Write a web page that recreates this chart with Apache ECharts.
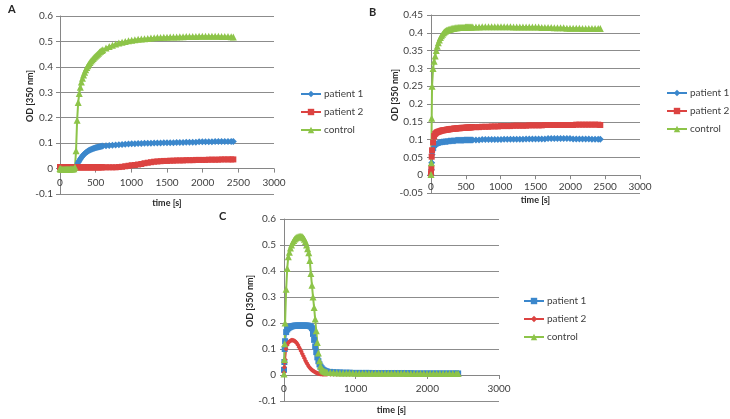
<!DOCTYPE html>
<html lang="en">
<head>
<meta charset="UTF-8">
<title>OD 350 nm time course</title>
<script src="https://cdn.jsdelivr.net/npm/echarts/dist/echarts.min.js"></script>
<style>
  html, body { margin: 0; padding: 0; background: #fff; }
  #chart { width: 730px; height: 419px; }
</style>
</head>
<body>
<div id="chart"></div>
<script>
// time points [s], shared by the three panels
var time = [
  0, 5, 10, 15, 30, 45, 60, 75, 90, 105, 120, 135, 150, 165, 180, 195, 210, 225, 240, 255, 270, 285,
  300, 315, 330, 345, 360, 375, 390, 405, 420, 435, 450, 465, 480, 495, 510, 525, 540, 555, 570, 585, 600,
  645, 690, 735, 780, 825, 870, 915, 960, 1005, 1050, 1095, 1140, 1185, 1230, 1275, 1320, 1365, 1410, 1455, 1500,
  1545, 1590, 1635, 1680, 1725, 1770, 1815, 1860, 1905, 1950, 1995, 2040, 2085, 2130, 2175, 2220, 2265, 2310, 2355, 2400, 2430
];

var seriesNames = ['patient 1', 'patient 2', 'control'];

// panel A
var aPatient1 = [
  0.000, 0.000, 0.001, 0.001, 0.001, 0.001, 0.001, 0.001, 0.001, 0.001, 0.001, 0.001, 0.001, 0.001, 0.001, 0.001, 0.002, 0.006, 0.015, 0.024, 0.031, 0.038,
  0.044, 0.049, 0.054, 0.058, 0.062, 0.065, 0.068, 0.071, 0.073, 0.075, 0.077, 0.079, 0.080, 0.082, 0.083, 0.084, 0.085, 0.086, 0.087, 0.088, 0.089,
  0.090, 0.091, 0.092, 0.093, 0.094, 0.095, 0.096, 0.097, 0.098, 0.098, 0.099, 0.099, 0.100, 0.100, 0.100, 0.101, 0.101, 0.101, 0.102, 0.102,
  0.102, 0.102, 0.103, 0.103, 0.103, 0.104, 0.104, 0.104, 0.104, 0.105, 0.105, 0.105, 0.105, 0.105, 0.106, 0.106, 0.106, 0.106, 0.106, 0.106, 0.106
];
var aPatient2 = [
  0.006, 0.006, 0.006, 0.006, 0.006, 0.006, 0.006, 0.006, 0.006, 0.006, 0.006, 0.006, 0.005, 0.005, 0.005, 0.005, 0.005, 0.005, 0.005, 0.005, 0.005, 0.005,
  0.005, 0.005, 0.005, 0.005, 0.005, 0.005, 0.005, 0.005, 0.005, 0.005, 0.005, 0.005, 0.005, 0.005, 0.005, 0.005, 0.005, 0.005, 0.005, 0.005, 0.005,
  0.005, 0.005, 0.005, 0.005, 0.006, 0.007, 0.009, 0.011, 0.013, 0.014, 0.016, 0.018, 0.021, 0.023, 0.025, 0.027, 0.028, 0.029, 0.030, 0.030,
  0.031, 0.031, 0.032, 0.032, 0.032, 0.033, 0.033, 0.033, 0.034, 0.034, 0.034, 0.034, 0.035, 0.035, 0.035, 0.035, 0.036, 0.036, 0.036, 0.036, 0.036
];
var aControl = [
  0.000, -0.001, -0.002, -0.002, -0.003, -0.003, -0.003, -0.003, -0.003, -0.003, -0.003, -0.003, -0.002, -0.002, -0.002, -0.001, 0.005, 0.070, 0.190, 0.260, 0.295, 0.320,
  0.340, 0.355, 0.368, 0.379, 0.389, 0.397, 0.404, 0.411, 0.417, 0.423, 0.428, 0.433, 0.438, 0.442, 0.446, 0.450, 0.454, 0.458, 0.461, 0.464, 0.467,
  0.474, 0.480, 0.485, 0.490, 0.494, 0.497, 0.500, 0.503, 0.505, 0.507, 0.509, 0.510, 0.511, 0.512, 0.513, 0.514, 0.515, 0.515, 0.516, 0.516,
  0.517, 0.517, 0.517, 0.518, 0.518, 0.519, 0.519, 0.519, 0.519, 0.520, 0.520, 0.520, 0.520, 0.520, 0.520, 0.520, 0.519, 0.519, 0.519, 0.518, 0.517
];

// panel B
var bPatient1 = [
  0.003, 0.015, 0.035, 0.058, 0.071, 0.079, 0.084, 0.087, 0.089, 0.090, 0.091, 0.092, 0.093, 0.093, 0.094, 0.094, 0.095, 0.095, 0.095, 0.096, 0.096, 0.096,
  0.097, 0.097, 0.097, 0.097, 0.098, 0.098, 0.098, 0.098, 0.098, 0.098, 0.098, 0.098, 0.099, 0.099, 0.099, 0.099, 0.099, 0.099, 0.099, 0.099, 0.099,
  0.099, 0.099, 0.100, 0.100, 0.100, 0.100, 0.100, 0.100, 0.100, 0.101, 0.101, 0.101, 0.101, 0.101, 0.101, 0.101, 0.102, 0.102, 0.102, 0.102,
  0.102, 0.102, 0.102, 0.103, 0.103, 0.103, 0.103, 0.103, 0.103, 0.103, 0.103, 0.102, 0.102, 0.102, 0.102, 0.102, 0.102, 0.101, 0.101, 0.101, 0.101
];
var bPatient2 = [
  0.005, 0.020, 0.052, 0.070, 0.092, 0.110, 0.116, 0.119, 0.121, 0.122, 0.123, 0.124, 0.125, 0.126, 0.126, 0.127, 0.127, 0.128, 0.128, 0.129, 0.129, 0.130,
  0.130, 0.130, 0.131, 0.131, 0.131, 0.132, 0.132, 0.132, 0.132, 0.133, 0.133, 0.133, 0.133, 0.133, 0.134, 0.134, 0.134, 0.134, 0.134, 0.135, 0.135,
  0.135, 0.135, 0.136, 0.136, 0.136, 0.137, 0.137, 0.137, 0.138, 0.138, 0.138, 0.138, 0.139, 0.139, 0.139, 0.139, 0.139, 0.140, 0.140, 0.140,
  0.140, 0.140, 0.141, 0.141, 0.141, 0.141, 0.141, 0.141, 0.141, 0.141, 0.141, 0.141, 0.142, 0.142, 0.142, 0.142, 0.142, 0.142, 0.142, 0.142, 0.141
];
var bControl = [
  0.002, 0.035, 0.160, 0.250, 0.300, 0.320, 0.335, 0.350, 0.362, 0.372, 0.380, 0.387, 0.392, 0.396, 0.400, 0.403, 0.405, 0.407, 0.408, 0.409, 0.410, 0.411,
  0.412, 0.413, 0.413, 0.414, 0.414, 0.414, 0.415, 0.415, 0.415, 0.415, 0.415, 0.415, 0.415, 0.416, 0.416, 0.416, 0.416, 0.416, 0.416, 0.416, 0.416,
  0.416, 0.416, 0.417, 0.417, 0.417, 0.417, 0.417, 0.417, 0.417, 0.417, 0.417, 0.417, 0.416, 0.416, 0.416, 0.416, 0.416, 0.416, 0.416, 0.416,
  0.416, 0.415, 0.415, 0.415, 0.415, 0.414, 0.414, 0.414, 0.414, 0.413, 0.413, 0.413, 0.413, 0.413, 0.412, 0.412, 0.412, 0.412, 0.412, 0.412, 0.412
];

// panel C
var cPatient1 = [
  0.020, 0.050, 0.100, 0.130, 0.165, 0.175, 0.180, 0.183, 0.185, 0.187, 0.188, 0.189, 0.190, 0.190, 0.190, 0.190, 0.190, 0.190, 0.190, 0.190, 0.190, 0.190,
  0.190, 0.190, 0.190, 0.189, 0.188, 0.186, 0.180, 0.158, 0.135, 0.110, 0.088, 0.068, 0.053, 0.041, 0.032, 0.026, 0.021, 0.018, 0.016, 0.014, 0.013,
  0.012, 0.011, 0.010, 0.010, 0.009, 0.009, 0.009, 0.008, 0.008, 0.008, 0.008, 0.008, 0.008, 0.007, 0.007, 0.007, 0.007, 0.007, 0.007, 0.007,
  0.007, 0.007, 0.007, 0.007, 0.007, 0.007, 0.006, 0.006, 0.006, 0.006, 0.006, 0.006, 0.006, 0.006, 0.006, 0.006, 0.006, 0.006, 0.006, 0.006, 0.006
];
var cPatient2 = [
  0.010, 0.030, 0.048, 0.060, 0.100, 0.115, 0.124, 0.129, 0.132, 0.134, 0.134, 0.133, 0.131, 0.127, 0.122, 0.115, 0.107, 0.099, 0.091, 0.082, 0.073, 0.064,
  0.055, 0.047, 0.040, 0.033, 0.028, 0.023, 0.019, 0.016, 0.013, 0.011, 0.009, 0.007, 0.006, 0.005, 0.004, 0.004, 0.003, 0.003, 0.003, 0.003, 0.003,
  0.003, 0.003, 0.003, 0.003, 0.003, 0.003, 0.003, 0.003, 0.003, 0.003, 0.003, 0.003, 0.003, 0.003, 0.003, 0.003, 0.003, 0.003, 0.003, 0.003,
  0.003, 0.003, 0.003, 0.003, 0.003, 0.003, 0.003, 0.003, 0.003, 0.003, 0.002, 0.002, 0.002, 0.002, 0.002, 0.002, 0.002, 0.002, 0.002, 0.002, 0.002
];
var cControl = [
  0.004, 0.060, 0.120, 0.200, 0.330, 0.410, 0.455, 0.472, 0.488, 0.500, 0.510, 0.517, 0.523, 0.527, 0.530, 0.532, 0.533, 0.534, 0.533, 0.532, 0.528, 0.522,
  0.513, 0.500, 0.486, 0.470, 0.440, 0.390, 0.345, 0.300, 0.260, 0.215, 0.170, 0.125, 0.085, 0.055, 0.035, 0.024, 0.018, 0.015, 0.013, 0.012, 0.011,
  0.010, 0.009, 0.009, 0.008, 0.008, 0.008, 0.008, 0.008, 0.007, 0.007, 0.007, 0.007, 0.007, 0.007, 0.007, 0.007, 0.007, 0.007, 0.007, 0.007,
  0.007, 0.007, 0.007, 0.007, 0.006, 0.006, 0.006, 0.006, 0.006, 0.006, 0.006, 0.006, 0.006, 0.006, 0.006, 0.006, 0.006, 0.006, 0.006, 0.006, 0.006
];

var BLUE = '#3b87cc', RED = '#dc4341', GREEN = '#8dc449';
var FONT = 'Lato, "Open Sans", sans-serif';
var AXIS_GRAY = '#868686';

var myChart = echarts.init(document.getElementById('chart'));

function pairs(ys) {
  return ys.map(function (y, i) { return [time[i], y]; });
}

function lineSeries(panel, idx, name, ys, symbol, size, color) {
  return {
    type: 'line',
    name: panel + '|' + name,
    xAxisIndex: idx,
    yAxisIndex: idx,
    data: pairs(ys),
    symbol: symbol,
    symbolSize: size,
    lineStyle: { color: color, width: 2 },
    itemStyle: { color: color },
    emphasis: { disabled: true }
  };
}

// x axis is lifted from the grid bottom up to y = 0 (offset < 0), like Excel's crossing axis
function xAxisFor(idx, interval, lift, gap, margin) {
  return {
    type: 'value', gridIndex: idx, min: 0, max: 3000, interval: interval,
    offset: -lift,
    name: 'time [s]', nameLocation: 'middle', nameGap: gap, nameMoveOverlap: false,
    nameTextStyle: { fontFamily: FONT, fontSize: 9, fontWeight: 'bold', color: '#262626' },
    axisLine: { show: true, onZero: false, lineStyle: { color: AXIS_GRAY, width: 1 } },
    axisTick: { show: true, length: 4, lineStyle: { color: AXIS_GRAY } },
    axisLabel: {
      margin: margin, fontFamily: FONT, fontSize: 10, color: '#404040',
      formatter: function (v) { return String(v); }
    },
    splitLine: { show: false }
  };
}

function yAxisFor(idx, min, max, interval, gap, margin) {
  return {
    type: 'value', gridIndex: idx, min: min, max: max, interval: interval,
    name: 'OD [350 nm]', nameLocation: 'middle', nameGap: gap, nameMoveOverlap: false,
    nameTextStyle: { fontFamily: FONT, fontSize: 9, fontWeight: 'bold', color: '#262626', padding: [0, 0, 0, 18] },
    axisLine: { show: true, onZero: false, lineStyle: { color: AXIS_GRAY, width: 1 } },
    axisTick: { show: true, length: 4, lineStyle: { color: AXIS_GRAY } },
    axisLabel: { margin: margin, fontFamily: FONT, fontSize: 10, color: '#404040' },
    splitLine: { show: true, lineStyle: { color: '#8c8c8c', width: 1 } }
  };
}

function legendFor(panel, left, top) {
  return {
    orient: 'vertical', left: left, top: top, padding: 0,
    itemWidth: 20, itemHeight: 8, itemGap: 8,
    selectedMode: false,
    data: seriesNames.map(function (n) { return panel + '|' + n; }),
    formatter: function (name) { return name.split('|')[1]; },
    textStyle: { fontFamily: FONT, fontSize: 10, color: '#404040', padding: [0, 0, 0, -2] }
  };
}

function panelTitle(text, left, top) {
  return {
    text: text, left: left, top: top, padding: 0,
    textStyle: { fontFamily: FONT, fontSize: 11, fontWeight: 'bold', color: '#262626' }
  };
}

var option = {
  animation: false,
  backgroundColor: '#ffffff',
  title: [
    panelTitle('A', 8, 4),
    panelTitle('B', 369, 7),
    panelTitle('C', 219, 211)
  ],
  legend: [
    legendFor('A', 300, 89),
    legendFor('B', 666, 88),
    legendFor('C', 523, 296)
  ],
  grid: [
    { left: 60, top: 16, width: 214, height: 178, outerBoundsMode: 'none' },
    { left: 431, top: 15, width: 209, height: 178, outerBoundsMode: 'none' },
    { left: 284, top: 219, width: 215, height: 182, outerBoundsMode: 'none' }
  ],
  xAxis: [
    xAxisFor(0, 500, 25.4, 30, 9),
    xAxisFor(1, 500, 17.8, 20, 7),
    xAxisFor(2, 1000, 26, 31, 9)
  ],
  yAxis: [
    yAxisFor(0, -0.1, 0.6, 0.1, 25, 7),
    yAxisFor(1, -0.05, 0.45, 0.05, 31, 8),
    yAxisFor(2, -0.1, 0.6, 0.1, 29, 8)
  ],
  series: [
    lineSeries('A', 0, 'patient 1', aPatient1, 'diamond', 7, BLUE),
    lineSeries('A', 0, 'patient 2', aPatient2, 'rect', 6, RED),
    lineSeries('A', 0, 'control', aControl, 'triangle', 7, GREEN),
    lineSeries('B', 1, 'patient 1', bPatient1, 'diamond', 7, BLUE),
    lineSeries('B', 1, 'patient 2', bPatient2, 'rect', 6, RED),
    lineSeries('B', 1, 'control', bControl, 'triangle', 7, GREEN),
    lineSeries('C', 2, 'patient 1', cPatient1, 'rect', 6, BLUE),
    lineSeries('C', 2, 'patient 2', cPatient2, 'diamond', 5, RED),
    lineSeries('C', 2, 'control', cControl, 'triangle', 7, GREEN)
  ]
};

myChart.setOption(option);
</script>
</body>
</html>
